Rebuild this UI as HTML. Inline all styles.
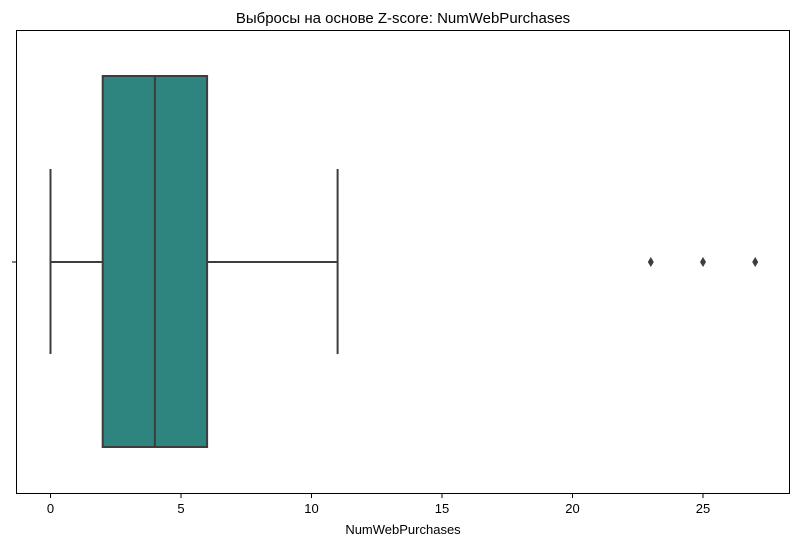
<!DOCTYPE html>
<html><head><meta charset="utf-8"><style>
body{margin:0;background:#fff;width:799px;height:546px;overflow:hidden}
svg{font-family:"Liberation Sans","DejaVu Sans",sans-serif}
</style></head><body>
<svg id="chart" width="799" height="546">
<text x="403" y="23" font-size="15" text-anchor="middle" fill="#000">Выбросы на основе Z-score: NumWebPurchases</text>
<g id="plot"></g>
<rect x="16.5" y="30.5" width="773" height="463" fill="none" stroke="#000" stroke-width="1"/>
<line x1="12" y1="262" x2="16" y2="262" stroke="#000"/>
<text x="403" y="534" font-size="13" text-anchor="middle">NumWebPurchases</text>
</svg>
<script>
const xTicks=[0,5,10,15,20,25];
const stats=[0,2,4,6,11]; // whisker low, q1, median, q3, whisker high
const outliers=[23,25,27];
const NS="http://www.w3.org/2000/svg";
const svg=document.getElementById('chart');
const g=document.getElementById('plot');
function X(v){return 50.5+v*26.1;}
function mk(t,a){const e=document.createElementNS(NS,t);for(const k in a)e.setAttribute(k,a[k]);return e;}
const cy=262,bt=76,bb=447,ct=169,cb=354,c="#3d3d3d";
let e;
e=mk('line',{x1:X(stats[0]),x2:X(stats[1]),y1:cy,y2:cy,stroke:c,'stroke-width':2});

g.appendChild(e);
e=mk('line',{x1:X(stats[3]),x2:X(stats[4]),y1:cy,y2:cy,stroke:c,'stroke-width':2});

g.appendChild(e);
e=mk('line',{x1:X(stats[0]),x2:X(stats[0]),y1:ct,y2:cb,stroke:c,'stroke-width':2});

g.appendChild(e);
e=mk('line',{x1:X(stats[4]),x2:X(stats[4]),y1:ct,y2:cb,stroke:c,'stroke-width':2});

g.appendChild(e);
e=mk('rect',{x:X(stats[1]),y:bt,width:X(stats[3])-X(stats[1]),height:bb-bt,fill:'#2e8580',stroke:c,'stroke-width':2});

g.appendChild(e);
e=mk('line',{x1:X(stats[2]),x2:X(stats[2]),y1:bt,y2:bb,stroke:c,'stroke-width':2});

g.appendChild(e);
outliers.forEach(v=>{const x=X(v);
const p=mk('polygon',{points:`${x},${cy-5} ${x+3},${cy} ${x},${cy+5} ${x-3},${cy}`,fill:c});

g.appendChild(p);});
xTicks.forEach(v=>{const x=X(v);
const l=mk('line',{x1:x,x2:x,y1:494,y2:498,stroke:'#000'});

svg.appendChild(l);
const t=mk('text',{x:x,y:513,'font-size':13,'text-anchor':'middle'});t.textContent=v;

svg.appendChild(t);});
</script>
</body></html>
